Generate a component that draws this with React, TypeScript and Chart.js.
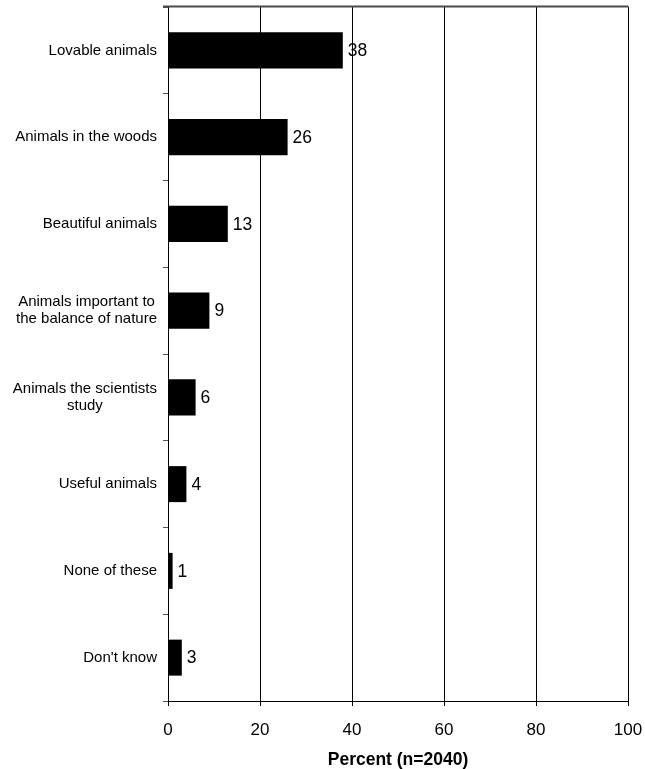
import React, { useEffect, useRef } from "react";
import { Chart, registerables } from "chart.js";

Chart.register(...registerables);

// Survey answers, top to bottom
const categories: string[][] = [
  ["Lovable animals"],
  ["Animals in the woods"],
  ["Beautiful animals"],
  ["Animals important to", "the balance of nature"],
  ["Animals the scientists", "study"],
  ["Useful animals"],
  ["None of these"],
  ["Don't know"],
];
const percents: number[] = [38, 26, 13, 9, 6, 4, 1, 3];
const xTicks: number[] = [0, 20, 40, 60, 80, 100];
const xTitle = "Percent (n=2040)";

const FONT = '"Liberation Sans", Arial, sans-serif';

// Category names: each block right-aligned next to the axis, lines centred within it
const categoryLabels = {
  id: "categoryLabels",
  afterDraw(chart: any) {
    const { ctx } = chart;
    const y = chart.scales.y;
    const rightEdge = y.right - 11;
    const lineGap = 17;
    ctx.save();
    ctx.font = `15px ${FONT}`;
    ctx.fillStyle = "#000";
    ctx.textAlign = "center";
    ctx.textBaseline = "middle";
    categories.forEach((lines, i) => {
      const cy = y.getPixelForTick(i);
      const w = Math.max(...lines.map((l) => ctx.measureText(l).width));
      const cx = rightEdge - w / 2;
      const start = cy - ((lines.length - 1) * lineGap) / 2;
      lines.forEach((l, k) => ctx.fillText(l, cx, start + k * lineGap));
    });
    ctx.restore();
  },
};

// Value printed just past the end of each bar, plus the frame's top edge
const valueLabels = {
  id: "valueLabels",
  afterDatasetsDraw(chart: any) {
    const { ctx, chartArea } = chart;
    ctx.save();
    ctx.strokeStyle = "#4a4a4a";
    ctx.lineWidth = 2;
    ctx.beginPath();
    ctx.moveTo(chartArea.left - 5, chartArea.top - 0.5);
    ctx.lineTo(chartArea.right + 0.5, chartArea.top - 0.5);
    ctx.stroke();

    const meta = chart.getDatasetMeta(0);
    ctx.font = `17.5px ${FONT}`;
    ctx.fillStyle = "#000";
    ctx.textAlign = "left";
    ctx.textBaseline = "middle";
    meta.data.forEach((bar: any, i: number) => {
      ctx.fillText(String(percents[i]), bar.x + 5, bar.y + 1);
    });
    ctx.restore();
  },
};

export default function App() {
  const ref = useRef<HTMLCanvasElement>(null);

  useEffect(() => {
    if (!ref.current) return;
    const chart = new Chart(ref.current, {
      type: "bar",
      data: {
        labels: categories.map((c) => c.join(" ")),
        datasets: [
          {
            data: percents,
            backgroundColor: "#000",
            borderWidth: 0,
            categoryPercentage: 1,
            barPercentage: 0.415,
          },
        ],
      },
      options: {
        indexAxis: "y",
        responsive: false,
        animation: false,
        layout: { padding: { top: 7, right: 17, left: 0, bottom: 0 } },
        plugins: {
          legend: { display: false },
          tooltip: { enabled: false },
        },
        scales: {
          x: {
            type: "linear",
            min: 0,
            max: 100,
            afterBuildTicks: (scale: any) => {
              scale.ticks = xTicks.map((v) => ({ value: v }));
            },
            afterFit: (scale: any) => {
              scale.height = 68;
              scale.paddingLeft = 0;
              scale.paddingRight = 0;
            },
            grid: {
              color: "#000",
              lineWidth: 1,
              drawTicks: true,
              tickLength: 5,
            },
            border: { display: true, color: "#000", width: 1 },
            ticks: {
              color: "#000",
              font: { family: FONT, size: 17 },
              padding: 14,
              maxRotation: 0,
            },
            title: {
              display: true,
              text: xTitle,
              color: "#000",
              font: { family: FONT, size: 17.5, weight: "bold", lineHeight: 1 },
              padding: { top: 0, bottom: 0 },
            },
          },
          y: {
            type: "category",
            afterFit: (scale: any) => {
              scale.width = 168;
            },
            grid: {
              offset: true,
              drawOnChartArea: false,
              drawTicks: true,
              tickLength: 5,
              color: "#555",
            },
            border: { display: true, color: "#000", width: 1 },
            ticks: { display: false },
          },
        },
      },
      plugins: [categoryLabels, valueLabels],
    });
    return () => chart.destroy();
  }, []);

  return (
    <div style={{ position: "absolute", left: 0, top: 0, width: 645, height: 769, background: "#fff" }}>
      <canvas ref={ref} width={645} height={769} style={{ display: "block" }} />
    </div>
  );
}
